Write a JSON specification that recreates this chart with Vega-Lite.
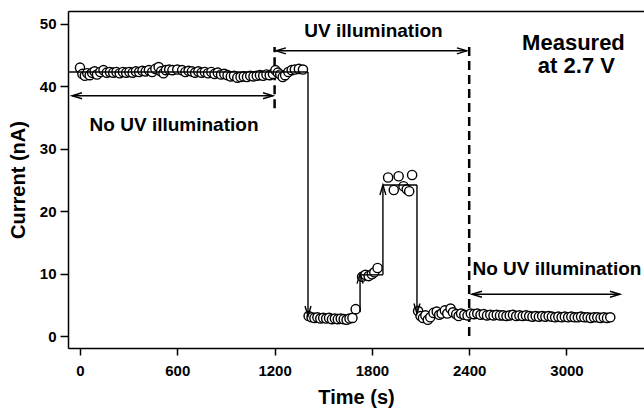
{
  "$schema": "https://vega.github.io/schema/vega-lite/v6.json",
  "autosize": "none",
  "width": 576,
  "height": 337,
  "padding": {"left": 68, "top": 11, "right": 0, "bottom": 60},
  "background": "white",
  "config": {
    "view": {"stroke": null},
    "font": "Liberation Sans",
    "axis": {
      "labelFont": "Liberation Sans", "labelFontSize": 15, "labelFontWeight": "bold", "labelColor": "black",
      "titleFont": "Liberation Sans", "titleFontSize": 20, "titleFontWeight": "bold", "titleColor": "black",
      "domainColor": "black", "domainWidth": 1.5, "tickColor": "black", "tickWidth": 1.5, "grid": false
    },
    "axisX": {"tickSize": 7, "labelPadding": 8, "titlePadding": 9, "labelFlush": false},
    "axisY": {"tickSize": 8, "labelPadding": 4, "titlePadding": 11}
  },
  "datasets": {
    "points": [
      {"t":0,"current":43.0},{"t":15,"current":42.0},{"t":30,"current":41.7},{"t":45,"current":42.1},{"t":60,"current":41.8},
      {"t":75,"current":42.2},{"t":90,"current":42.4},{"t":105,"current":41.9},{"t":125,"current":42.3},{"t":145,"current":42.6},
      {"t":165,"current":42.2},{"t":185,"current":42.3},{"t":205,"current":42.2},{"t":225,"current":42.3},{"t":245,"current":42.1},
      {"t":265,"current":42.3},{"t":285,"current":42.2},{"t":305,"current":42.3},{"t":325,"current":42.2},{"t":345,"current":42.4},
      {"t":365,"current":42.3},{"t":385,"current":42.5},{"t":405,"current":42.4},{"t":425,"current":42.6},{"t":445,"current":42.3},
      {"t":465,"current":42.8},{"t":485,"current":43.1},{"t":500,"current":42.4},{"t":515,"current":42.1},{"t":530,"current":42.6},
      {"t":550,"current":42.7},{"t":570,"current":42.6},{"t":600,"current":42.7},{"t":630,"current":42.6},{"t":650,"current":42.3},
      {"t":670,"current":42.5},{"t":690,"current":42.4},{"t":710,"current":42.2},{"t":730,"current":42.4},{"t":750,"current":42.2},
      {"t":770,"current":42.3},{"t":790,"current":42.1},{"t":810,"current":42.3},{"t":830,"current":42.0},{"t":850,"current":42.2},
      {"t":870,"current":41.9},{"t":890,"current":42.0},{"t":910,"current":41.8},{"t":930,"current":41.6},{"t":950,"current":41.7},
      {"t":970,"current":41.4},{"t":990,"current":41.5},{"t":1010,"current":41.6},{"t":1030,"current":41.5},{"t":1050,"current":41.7},
      {"t":1070,"current":41.6},{"t":1090,"current":41.7},{"t":1110,"current":41.8},{"t":1130,"current":41.7},{"t":1150,"current":41.9},
      {"t":1170,"current":41.8},{"t":1190,"current":42.0},{"t":1205,"current":42.6},{"t":1220,"current":42.2},{"t":1235,"current":41.9},
      {"t":1250,"current":41.5},{"t":1265,"current":41.8},{"t":1285,"current":42.3},{"t":1305,"current":42.6},{"t":1325,"current":42.7},
      {"t":1350,"current":42.8},{"t":1375,"current":42.7},
      {"t":1410,"current":3.2},{"t":1428,"current":3.0},{"t":1446,"current":2.9},{"t":1464,"current":3.0},{"t":1482,"current":2.8},
      {"t":1500,"current":2.9},{"t":1518,"current":2.8},{"t":1536,"current":2.9},{"t":1554,"current":2.7},{"t":1572,"current":2.8},
      {"t":1590,"current":2.7},{"t":1608,"current":2.8},{"t":1626,"current":2.7},{"t":1644,"current":2.6},{"t":1662,"current":2.8},
      {"t":1680,"current":2.9},{"t":1700,"current":4.3},
      {"t":1740,"current":9.5},{"t":1760,"current":9.8},{"t":1780,"current":9.6},{"t":1800,"current":9.9},{"t":1815,"current":10.2},
      {"t":1835,"current":10.9},
      {"t":1900,"current":25.4},{"t":1935,"current":23.4},{"t":1965,"current":25.6},{"t":1995,"current":24.0},{"t":2015,"current":23.5},
      {"t":2030,"current":23.2},{"t":2048,"current":25.8},
      {"t":2085,"current":4.0},{"t":2100,"current":3.2},{"t":2115,"current":2.9},{"t":2130,"current":3.3},{"t":2145,"current":2.6},
      {"t":2160,"current":3.0},{"t":2180,"current":3.7},{"t":2200,"current":3.9},{"t":2215,"current":3.4},{"t":2230,"current":3.6},
      {"t":2250,"current":4.1},{"t":2265,"current":3.6},{"t":2285,"current":4.4},{"t":2300,"current":3.8},{"t":2320,"current":3.5},
      {"t":2335,"current":3.2},{"t":2350,"current":3.6},{"t":2370,"current":3.4},{"t":2390,"current":3.3},{"t":2410,"current":3.6},
      {"t":2430,"current":3.5},{"t":2450,"current":3.6},{"t":2470,"current":3.4},{"t":2490,"current":3.5},{"t":2510,"current":3.3},
      {"t":2530,"current":3.4},{"t":2550,"current":3.3},{"t":2570,"current":3.4},{"t":2590,"current":3.3},{"t":2610,"current":3.3},
      {"t":2630,"current":3.2},{"t":2650,"current":3.3},{"t":2670,"current":3.4},{"t":2690,"current":3.2},{"t":2710,"current":3.3},
      {"t":2730,"current":3.2},{"t":2750,"current":3.3},{"t":2770,"current":3.2},{"t":2790,"current":3.1},{"t":2810,"current":3.2},
      {"t":2830,"current":3.1},{"t":2850,"current":3.2},{"t":2870,"current":3.1},{"t":2890,"current":3.2},{"t":2910,"current":3.1},
      {"t":2930,"current":3.0},{"t":2950,"current":3.1},{"t":2970,"current":3.0},{"t":2990,"current":3.1},{"t":3010,"current":3.0},
      {"t":3030,"current":3.1},{"t":3050,"current":3.0},{"t":3070,"current":3.0},{"t":3090,"current":3.1},{"t":3110,"current":3.0},
      {"t":3130,"current":3.0},{"t":3150,"current":2.9},{"t":3170,"current":3.0},{"t":3190,"current":3.0},{"t":3210,"current":2.9},
      {"t":3230,"current":3.0},{"t":3250,"current":2.9},{"t":3270,"current":3.0}
    ],
    "guides": [
      {"t":-74,"current":42.3,"t2":1406,"current2":42.3},
      {"t":1406,"current":42.3,"t2":1406,"current2":3.2},
      {"t":1727,"current":3.8,"t2":1727,"current2":10.0},
      {"t":1727,"current":9.8,"t2":1868,"current2":9.8},
      {"t":1868,"current":9.8,"t2":1868,"current2":24.2},
      {"t":1868,"current":24.2,"t2":2078,"current2":24.2},
      {"t":2078,"current":24.2,"t2":2078,"current2":3.6},
      {"t":-49,"current":38.5,"t2":1190,"current2":38.5},
      {"t":1208,"current":45.7,"t2":2386,"current2":45.7},
      {"t":2417,"current":6.7,"t2":3330,"current2":6.7}
    ],
    "markers": [
      {"t":1200,"current":36.5,"t2":1200,"current2":46.3},
      {"t":2400,"current":0,"t2":2400,"current2":46.8}
    ],
    "heads": [
      {"t":1727,"current":10.0,"dir":"up"},
      {"t":1868,"current":24.2,"dir":"up"},
      {"t":1406,"current":3.2,"dir":"down"},
      {"t":2078,"current":3.6,"dir":"down"},
      {"t":-49,"current":38.5,"dir":"left"},
      {"t":1208,"current":45.7,"dir":"left"},
      {"t":2417,"current":6.7,"dir":"left"},
      {"t":1190,"current":38.5,"dir":"right"},
      {"t":2386,"current":45.7,"dir":"right"},
      {"t":3330,"current":6.7,"dir":"right"}
    ],
    "labels": [
      {"t":580,"current":32.9,"label":"No UV illumination"},
      {"t":1810,"current":47.9,"label":"UV illumination"},
      {"t":2941,"current":9.8,"label":"No UV illumination"}
    ],
    "note": [
      {"t":3043,"current":45.8,"label":"Measured"},
      {"t":3061,"current":42.1,"label":"at 2.7 V"}
    ]
  },
  "resolve": {"axis": {"x": "independent"}},
  "layer": [
    {
      "data": {"name": "markers"},
      "mark": {"type": "rule", "color": "black", "strokeWidth": 2.5, "strokeDash": [9, 5]},
      "encoding": {
        "x": {"field": "t", "type": "quantitative", "scale": {"domain": [-74, 3478], "nice": false, "zero": false},
              "title": null, "axis": {"orient": "top", "labels": false, "ticks": false, "title": null, "domainWidth": 1.5}},
        "x2": {"field": "t2"},
        "y": {"field": "current", "type": "quantitative", "title": "Current (nA)"},
        "y2": {"field": "current2"}
      }
    },
    {
      "data": {"name": "points"},
      "mark": {"type": "point", "shape": "circle", "filled": true, "fill": "white", "stroke": "black", "strokeWidth": 1.4, "size": 85, "opacity": 1},
      "encoding": {
        "x": {"field": "t", "type": "quantitative", "title": "Time (s)",
              "scale": {"domain": [-74, 3478], "nice": false, "zero": false},
              "axis": {"orient": "bottom", "values": [0, 600, 1200, 1800, 2400, 3000], "format": "d"}},
        "y": {"field": "current", "type": "quantitative", "title": "Current (nA)",
              "scale": {"domain": [-1.92, 52.08], "nice": false, "zero": false},
              "axis": {"values": [0, 10, 20, 30, 40, 50], "format": "d"}}
      }
    },
    {
      "data": {"name": "guides"},
      "mark": {"type": "rule", "color": "black", "strokeWidth": 1.4},
      "encoding": {
        "x": {"field": "t", "type": "quantitative", "title": "Time (s)", "axis": null},
        "x2": {"field": "t2"},
        "y": {"field": "current", "type": "quantitative", "title": "Current (nA)"},
        "y2": {"field": "current2"}
      }
    },
    {
      "data": {"name": "heads"},
      "transform": [{"filter": "datum.dir === 'up'"}],
      "mark": {"type": "point", "shape": "M-1.2,4L0,0L1.2,4", "filled": false, "stroke": "black", "strokeWidth": 1.4, "size": 25, "opacity": 1, "angle": 0},
      "encoding": {
        "x": {"field": "t", "type": "quantitative", "title": "Time (s)", "axis": null},
        "y": {"field": "current", "type": "quantitative", "title": "Current (nA)"}
      }
    },
    {
      "data": {"name": "heads"},
      "transform": [{"filter": "datum.dir === 'down'"}],
      "mark": {"type": "point", "shape": "M-1.2,4L0,0L1.2,4", "filled": false, "stroke": "black", "strokeWidth": 1.4, "size": 25, "opacity": 1, "angle": 180},
      "encoding": {
        "x": {"field": "t", "type": "quantitative", "title": "Time (s)", "axis": null},
        "y": {"field": "current", "type": "quantitative", "title": "Current (nA)"}
      }
    },
    {
      "data": {"name": "heads"},
      "transform": [{"filter": "datum.dir === 'left'"}],
      "mark": {"type": "point", "shape": "M-1.2,4L0,0L1.2,4", "filled": false, "stroke": "black", "strokeWidth": 1.4, "size": 25, "opacity": 1, "angle": 270},
      "encoding": {
        "x": {"field": "t", "type": "quantitative", "title": "Time (s)", "axis": null},
        "y": {"field": "current", "type": "quantitative", "title": "Current (nA)"}
      }
    },
    {
      "data": {"name": "heads"},
      "transform": [{"filter": "datum.dir === 'right'"}],
      "mark": {"type": "point", "shape": "M-1.2,4L0,0L1.2,4", "filled": false, "stroke": "black", "strokeWidth": 1.4, "size": 25, "opacity": 1, "angle": 90},
      "encoding": {
        "x": {"field": "t", "type": "quantitative", "title": "Time (s)", "axis": null},
        "y": {"field": "current", "type": "quantitative", "title": "Current (nA)"}
      }
    },
    {
      "data": {"name": "labels"},
      "mark": {"type": "text", "font": "Liberation Sans", "fontWeight": "bold", "fontSize": 19, "color": "black", "align": "center", "baseline": "alphabetic"},
      "encoding": {
        "x": {"field": "t", "type": "quantitative", "title": "Time (s)", "axis": null},
        "y": {"field": "current", "type": "quantitative", "title": "Current (nA)"},
        "text": {"field": "label"}
      }
    },
    {
      "data": {"name": "note"},
      "mark": {"type": "text", "font": "Liberation Sans", "fontWeight": "bold", "fontSize": 22, "color": "black", "align": "center", "baseline": "alphabetic"},
      "encoding": {
        "x": {"field": "t", "type": "quantitative", "title": "Time (s)", "axis": null},
        "y": {"field": "current", "type": "quantitative", "title": "Current (nA)"},
        "text": {"field": "label"}
      }
    }
  ]
}
